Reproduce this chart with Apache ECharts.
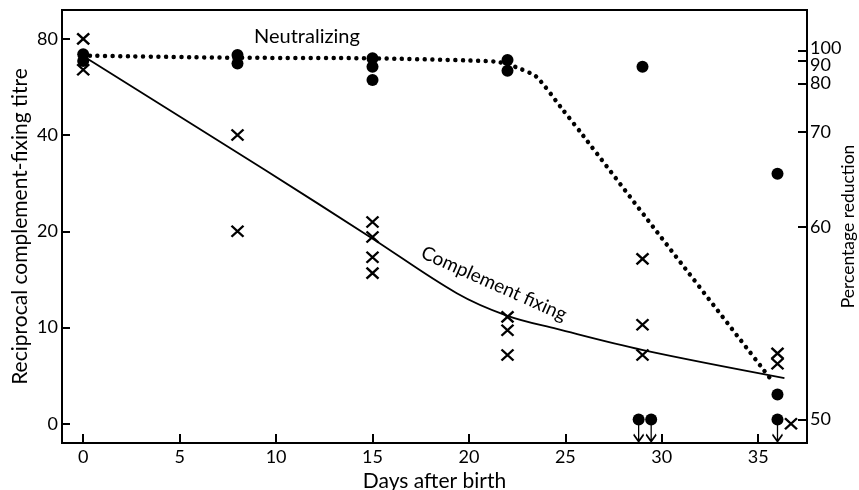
<!DOCTYPE html>
<html>
<head>
<meta charset="utf-8">
<script src="https://cdn.jsdelivr.net/npm/echarts@6/dist/echarts.min.js"></script>
<style>
html,body{margin:0;padding:0;background:#fff;}
#chart{width:859px;height:490px;}
</style>
</head>
<body>
<div id="chart"></div>
<script>
// ---- data ----
// x-axis (days after birth)
const xTicks = [0, 5, 10, 15, 20, 25, 30, 35];
// left axis: reciprocal complement-fixing titre (log2 scale, 0 at bottom)
const titreTicks = [0, 10, 20, 40, 80];
// right axis: percentage reduction tick labels and their calibrated scale positions
const pctTicks = [50, 60, 70, 80, 90, 100];
const pctTickPos = [0.045, 2.046, 3.034, 3.538, 3.773, 3.877];

// complement-fixing titres (crosses): [day, titre]
const complementPoints = [
  [0, 80], [0, 64],
  [8, 40], [8, 20],
  [15, 21.4], [15, 19.2], [15, 16.6], [15, 14.8],
  [22, 10.8], [22, 9.8], [22, 8.2],
  [29, 16.4], [29, 10.2], [29, 8.2],
  [36, 8.3], [36, 7.7],
  [36.7, 0]
];
// complement-fixing smooth curve: [day, titre]
const complementCurve = [
  [0.18, 69.6], [9.43, 31.1], [14.87, 19.2], [19.37, 12.8], [21.96, 10.9],
  [24.56, 9.9], [29.03, 8.5], [36.36, 6.95]
];
// neutralizing (filled circles): [day, % reduction]
const neutralizingPoints = [
  [0, 96.4], [0, 89.9],
  [8, 95.7], [8, 88.8],
  [15, 92.4], [15, 87.3], [15, 81.5],
  [22, 90.7], [22, 85.6],
  [29, 87.3],
  [36, 65.6], [36, 51.3]
];
// neutralizing values at or below 50 % (circle with downward arrow)
const neutralizingBelow = [[28.8, 50], [29.45, 50], [36, 50]];
// neutralizing dotted curve: [day, % reduction]
const neutralizingCurve = [
  [0.35, 95.0], [7.6, 93.0], [14.9, 92.4], [21.4, 89.6], [22.4, 87.3],
  [23.5, 82.9], [24.8, 74.9], [25.77, 70], [29.55, 60], [35.8, 51.9]
];

// ---- scales ----
function titrePos(v) { return v <= 0 ? 0 : Math.log2(v / 5); }
const titrePosTicks = titreTicks.map(titrePos);
function pctPos(p) {
  for (let i = 0; i < pctTicks.length - 1; i++) {
    const a = pctTicks[i], b = pctTicks[i + 1];
    if (p <= b || i === pctTicks.length - 2) {
      const t = (p - a) / (b - a);
      return pctTickPos[i] + t * (pctTickPos[i + 1] - pctTickPos[i]);
    }
  }
}
function nearestLabel(v, posArr, labels) {
  let best = 0, d = Infinity;
  posArr.forEach((p, i) => { const dd = Math.abs(p - v); if (dd < d) { d = dd; best = i; } });
  return labels[best];
}
// right-axis labels split over two axes so crowded 90/100 labels both show
const pctLabelPosMain = pctTickPos.filter((p, i) => pctTicks[i] !== 90);
const pctLabelPos90 = pctTickPos.filter((p, i) => pctTicks[i] === 90);

const FONT = 'Lato';
const TICKFS = 18;
const crossPath = 'path://M0,0L12,12M12,0L0,12';
const arrowPath = 'path://M5,0L5,20M0,13L5,20L10,13';
const NOFILL = 'rgba(0,0,0,0)';

const chart = echarts.init(document.getElementById('chart'), null, { renderer: 'canvas' });

const yMin = -0.2, yMax = 4.3;
const pctFormatter = v => {
  const l = nearestLabel(v, pctTickPos, pctTicks);
  if (l === 100) return '{u|100}';
  if (l === 90) return '{d|90}';
  return '{n|' + l + '}';
};
const pctRich = {
  u: { fontFamily: FONT, fontSize: TICKFS, color: '#000', padding: [0, 0, 6, 0] },
  d: { fontFamily: FONT, fontSize: TICKFS, color: '#000', padding: [8, 0, 0, 0] },
  n: { fontFamily: FONT, fontSize: TICKFS, color: '#000' }
};
const option = {
  animation: false,
  backgroundColor: '#fff',
  grid: {
    left: 62, right: 52, top: 10, bottom: 47, show: true, borderColor: '#000', borderWidth: 2,
    containLabel: false, outerBoundsMode: 'none'
  },
  xAxis: {
    type: 'value', min: -1.1, max: 37.53,
    name: 'Days after birth', nameLocation: 'middle', nameGap: 25,
    nameTextStyle: { fontFamily: FONT, fontSize: 21, color: '#000', verticalAlign: 'top' },
    axisLine: { show: true, onZero: false, lineStyle: { color: '#000', width: 2 } },
    axisTick: { show: true, inside: true, length: 9, lineStyle: { color: '#000', width: 2 }, customValues: xTicks },
    axisLabel: { fontFamily: FONT, fontSize: TICKFS, color: '#000', margin: 5, customValues: xTicks, hideOverlap: false },
    splitLine: { show: false }
  },
  yAxis: [{
    type: 'value', min: yMin, max: yMax, position: 'left',
    name: 'Reciprocal complement-fixing titre', nameLocation: 'middle', nameGap: 31, nameRotate: 90,
    nameMoveOverlap: false,
    nameTextStyle: { fontFamily: FONT, fontSize: 21, color: '#000' },
    axisLine: { show: true, onZero: false, lineStyle: { color: '#000', width: 2 } },
    axisTick: { show: true, inside: true, length: 8, lineStyle: { color: '#000', width: 2 }, customValues: titrePosTicks },
    axisLabel: {
      fontFamily: FONT, fontSize: TICKFS, color: '#000', margin: 4, customValues: titrePosTicks, hideOverlap: false,
      showMinLabel: true, showMaxLabel: true,
      formatter: v => String(nearestLabel(v, titrePosTicks, titreTicks))
    },
    splitLine: { show: false }
  }, {
    type: 'value', min: yMin, max: yMax, position: 'right',
    name: 'Percentage reduction', nameLocation: 'middle', nameGap: 32, nameRotate: 90,
    nameMoveOverlap: false,
    nameTextStyle: { fontFamily: FONT, fontSize: 17.5, color: '#000' },
    axisLine: { show: true, onZero: false, lineStyle: { color: '#000', width: 2 } },
    axisTick: { show: true, inside: true, length: 9, lineStyle: { color: '#000', width: 2 }, customValues: pctTickPos },
    axisLabel: {
      fontFamily: FONT, fontSize: TICKFS, color: '#000', margin: 3, customValues: pctLabelPosMain, hideOverlap: false,
      showMaxLabel: true, showMinLabel: true,
      formatter: pctFormatter, rich: pctRich
    },
    splitLine: { show: false }
  }, {
    type: 'value', min: yMin, max: yMax, position: 'right',
    axisLine: { show: false, onZero: false },
    axisTick: { show: false },
    axisLabel: {
      fontFamily: FONT, fontSize: TICKFS, color: '#000', margin: 3, customValues: pctLabelPos90, hideOverlap: false,
      showMaxLabel: true, showMinLabel: true,
      formatter: pctFormatter, rich: pctRich
    },
    splitLine: { show: false }
  }],
  series: [
    {
      name: 'Neutralizing curve', type: 'line', yAxisIndex: 0, showSymbol: false, smooth: 0.2,
      data: neutralizingCurve.map(d => [d[0], pctPos(d[1])]),
      lineStyle: { color: '#000', width: 4.5, type: [0.01, 7.6], cap: 'round' },
      z: 2
    },
    {
      name: 'Complement fixing curve', type: 'line', yAxisIndex: 0, showSymbol: false,
      smooth: 0.35,
      data: complementCurve.map(d => [d[0], titrePos(d[1])]),
      lineStyle: { color: '#000', width: 1.8 },
      z: 3
    },
    {
      name: 'Complement fixing', type: 'scatter', yAxisIndex: 0,
      symbol: crossPath, symbolSize: [12, 11],
      data: complementPoints.map(d => [d[0], titrePos(d[1])]),
      itemStyle: { color: NOFILL, borderColor: '#000', borderWidth: 2.3, opacity: 1 },
      z: 4
    },
    {
      name: 'Neutralizing', type: 'scatter', yAxisIndex: 0,
      symbol: 'circle', symbolSize: 12,
      data: neutralizingPoints.map(d => [d[0], pctPos(d[1])]),
      itemStyle: { color: '#000', opacity: 1 },
      z: 5
    },
    {
      name: 'Neutralizing (≤50%)', type: 'scatter', yAxisIndex: 0,
      symbol: 'circle', symbolSize: 12,
      data: neutralizingBelow.map(d => [d[0], pctPos(d[1])]),
      itemStyle: { color: '#000', opacity: 1 },
      z: 5
    },
    {
      name: 'Arrows', type: 'scatter', yAxisIndex: 0,
      symbol: arrowPath, symbolSize: [10, 20], symbolOffset: [0, 12],
      data: neutralizingBelow.map(d => [d[0], pctPos(d[1])]),
      itemStyle: { color: NOFILL, borderColor: '#000', borderWidth: 1.8, opacity: 1 },
      z: 5
    }
  ]
};
chart.setOption(option);

// text labels placed in data coordinates
const neutLabel = chart.convertToPixel({ gridIndex: 0 }, [11.6, 4.02]);
const compLabel = chart.convertToPixel({ gridIndex: 0 }, [21.3, 1.455]);
chart.setOption({
  graphic: [
    {
      type: 'text', x: neutLabel[0], y: neutLabel[1],
      style: { text: 'Neutralizing', fontFamily: FONT, fontSize: 20, fill: '#000', align: 'center', verticalAlign: 'middle' }
    },
    {
      type: 'text', x: compLabel[0], y: compLabel[1], rotation: -24 * Math.PI / 180,
      style: { text: 'Complement fixing', fontFamily: FONT, fontSize: 19, fill: '#000', align: 'center', verticalAlign: 'middle' }
    }
  ]
});
</script>
</body>
</html>
